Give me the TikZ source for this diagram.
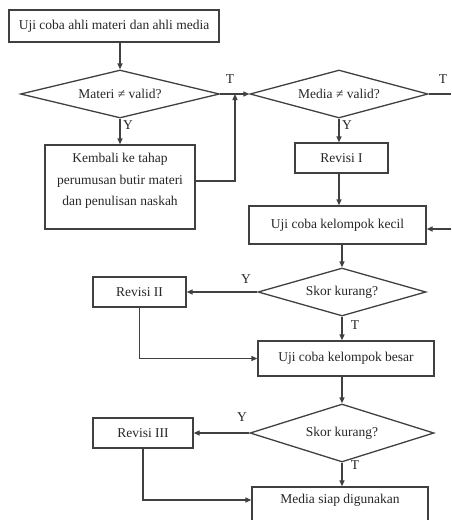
\documentclass[tikz,border=0pt]{standalone}
\usepackage{fontspec}
\setmainfont{Liberation Serif}
\usetikzlibrary{shapes.geometric,arrows.meta}
\begin{document}
\begin{tikzpicture}[x=1pt,y=-1pt,
  every node/.style={font=\fontsize{13.5}{21.5}\selectfont, text=black!85},
  box/.style={draw=black!75, line width=1.3pt, rectangle, inner sep=0pt},
  dec/.style={draw=black!75, line width=1.3pt, diamond, inner sep=0pt, aspect=3},
  flow/.style={draw=black!75, line width=1.3pt, -{Triangle[length=6pt,width=5pt]}},
  plainline/.style={draw=black!75, line width=1.3pt},
  lbl/.style={inner sep=0pt}]
\useasboundingbox (0,0) rectangle (451,520);
\clip (0,0) rectangle (451,520);
% nodes
\node[box, minimum width=210pt, minimum height=32pt] (b1) at (114,26) {Uji coba ahli materi dan ahli media};
\node[dec, minimum width=199pt, minimum height=48pt] (d1) at (120,94) {Materi ≠ valid?};
\node[dec, minimum width=178pt, minimum height=48pt] (d2) at (339,94) {Media ≠ valid?};
\node[box, minimum width=150pt, minimum height=84pt] (kb) at (120,187) {};
\node[align=center, inner sep=0pt] (kbt) at (120,181) {Kembali ke tahap\\perumusan butir materi\\dan penulisan naskah};
\node[box, minimum width=93pt, minimum height=30pt] (r1) at (341.5,158) {Revisi I};
\node[box, minimum width=177pt, minimum height=38pt] (kc) at (337.5,225) {Uji coba kelompok kecil};
\node[dec, minimum width=168pt, minimum height=48pt] (d3) at (342,292) {Skor kurang?};
\node[box, minimum width=93pt, minimum height=30pt] (r2) at (139.5,292) {Revisi II};
\node[box, minimum width=176pt, minimum height=35pt] (bs) at (346,358.5) {Uji coba kelompok besar};
\node[dec, minimum width=184pt, minimum height=58pt] (d4) at (342,433) {Skor kurang?};
\node[box, minimum width=100pt, minimum height=30pt] (r3) at (143,433) {Revisi III};
\node[box, minimum width=176pt, minimum height=50pt] (fn) at (340,512) {};
\node[inner sep=0pt] (fnt) at (340,500) {Media siap digunakan};
% free ends
\coordinate (jn) at (235,94);
\coordinate (e1) at (451,94);
\coordinate (e2) at (451,229);
% connectors
\draw[flow] (b1.south -| d1.north) -- (d1.north);
\draw[flow] (d1.east) -- (d2.west);
\draw[flow] (d1.south) -- (kb.north);
\draw[flow] (kbt.east -| kb.east) -| (jn);
\draw[flow] (d2.south) -- (d2.south |- r1.north);
\draw[flow] (r1.south -| d2.south) -- (kc.north -| d2.south);
\draw[plainline] (d2.east) -- (e1);
\draw[flow] (e2) -- (e2 -| kc.east);
\draw[flow] (kc.south -| d3.north) -- (d3.north);
\draw[flow] (d3.west) -- (d3.west -| r2.east);
\draw[flow] (d3.south) -- (d3.south |- bs.north);
\draw[flow] (r2.south) |- (bs.west);
\draw[flow] (bs.south -| d4.north) -- (d4.north);
\draw[flow] (d4.west) -- (d4.west -| r3.east);
\draw[flow] (d4.south) -- (d4.south |- fn.north);
\draw[flow] (r3.south) |- (fnt.west -| fn.west);
% labels
\node[lbl] (t1) at (230,79) {T};
\node[lbl] (t2) at (443,79) {T};
\node[lbl] (y1) at (128,125) {Y};
\node[lbl] (y2) at (347,125) {Y};
\node[lbl] (y3) at (246,279) {Y};
\node[lbl] (t3) at (355,325) {T};
\node[lbl] (y4) at (242,417) {Y};
\node[lbl] (t4) at (355,465) {T};
\end{tikzpicture}
\end{document}
